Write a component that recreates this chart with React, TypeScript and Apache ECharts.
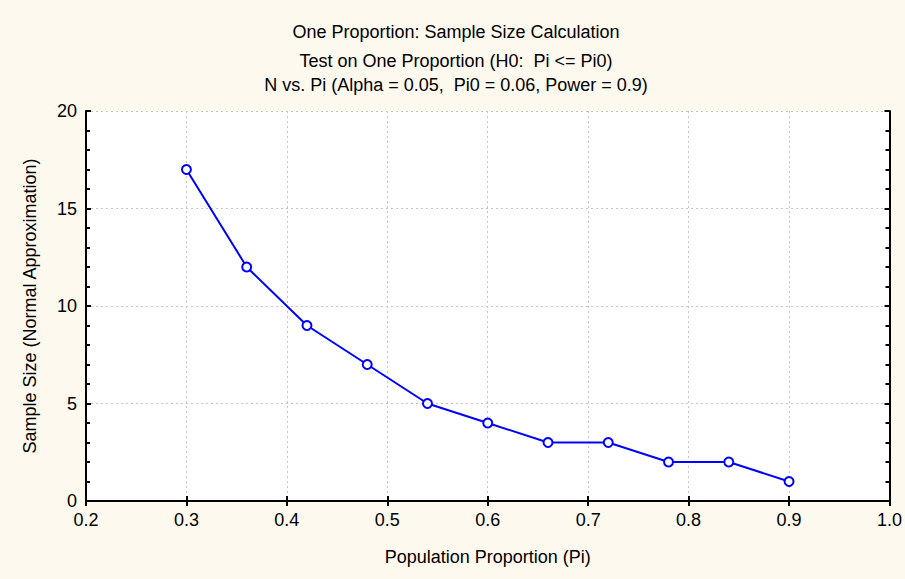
import React, { useEffect, useRef } from "react";
import * as echarts from "echarts";

const titleLines = [
  "One Proportion: Sample Size Calculation",
  "Test on One Proportion (H0:  Pi <= Pi0)",
  "N vs. Pi (Alpha = 0.05,  Pi0 = 0.06, Power = 0.9)",
];
const xName = "Population Proportion (Pi)";
const yName = "Sample Size (Normal Approximation)";
const piValues = [0.3, 0.36, 0.42, 0.48, 0.54, 0.6, 0.66, 0.72, 0.78, 0.84, 0.9];
const nValues = [17, 12, 9, 7, 5, 4, 3, 3, 2, 2, 1];

const FONT = "Liberation Sans, Arial, sans-serif";
const titleY = [32, 61, 85];

export default function App() {
  const ref = useRef<HTMLDivElement>(null);
  useEffect(() => {
    document.body.style.margin = "0";
    if (!ref.current) return;
    const chart = echarts.init(ref.current, null, { renderer: "svg" });
    const axisLine = { show: true, lineStyle: { color: "#000", width: 2 } };
    const tick = { show: true, inside: true, length: 5, lineStyle: { color: "#000", width: 2 } };
    const minor = { show: true, splitNumber: 5, length: 4, lineStyle: { color: "#000", width: 2 } };
    const grid = { show: true, lineStyle: { color: "#c4c4c4", type: [2, 3], width: 1 } };
    chart.setOption({
      animation: false,
      backgroundColor: "#FDF9EF",
      graphic: titleLines.map((t, i) => ({
        type: "text",
        x: 456,
        y: titleY[i],
        style: {
          text: t,
          fill: "#000",
          font: `18px ${FONT}`,
          textAlign: "center",
          textVerticalAlign: "middle",
        },
      })),
      grid: { left: 86, right: 14, top: 111, bottom: 78, show: true, backgroundColor: "#fff", borderWidth: 0 },
      xAxis: [
        {
          type: "value",
          min: 0.2,
          max: 1.0,
          interval: 0.1,
          position: "bottom",
          name: xName,
          nameLocation: "middle",
          nameGap: 47,
          nameTextStyle: { fontFamily: FONT, fontSize: 18, color: "#000" },
          axisLine,
          axisTick: tick,
          axisLabel: { fontFamily: FONT, fontSize: 18, color: "#000", margin: 10, formatter: (v: number) => v.toFixed(1) },
          splitLine: grid,
        },
        {
          type: "value",
          min: 0.2,
          max: 1.0,
          interval: 0.1,
          position: "top",
          axisLine,
          axisTick: tick,
          axisLabel: { show: false },
          splitLine: { show: false },
        },
      ],
      yAxis: [
        {
          type: "value",
          min: 0,
          max: 20,
          interval: 5,
          position: "left",
          name: yName,
          nameLocation: "middle",
          nameGap: 47,
          nameTextStyle: { fontFamily: FONT, fontSize: 18, color: "#000" },
          axisLine,
          axisTick: tick,
          minorTick: minor,
          axisLabel: { fontFamily: FONT, fontSize: 18, color: "#000", margin: 9 },
          splitLine: grid,
        },
        {
          type: "value",
          min: 0,
          max: 20,
          interval: 5,
          position: "right",
          axisLine,
          axisTick: tick,
          minorTick: minor,
          axisLabel: { show: false },
          splitLine: { show: false },
        },
      ],
      series: [
        {
          type: "line",
          data: piValues.map((p, i) => [p, nValues[i]]),
          symbol: "circle",
          symbolSize: 9,
          itemStyle: { color: "#fff", borderColor: "#0000FF", borderWidth: 2 },
          lineStyle: { color: "#0000FF", width: 2 },
          z: 5,
        },
      ],
    });
    return () => chart.dispose();
  }, []);
  return <div ref={ref} style={{ width: 905, height: 579 }} />;
}
